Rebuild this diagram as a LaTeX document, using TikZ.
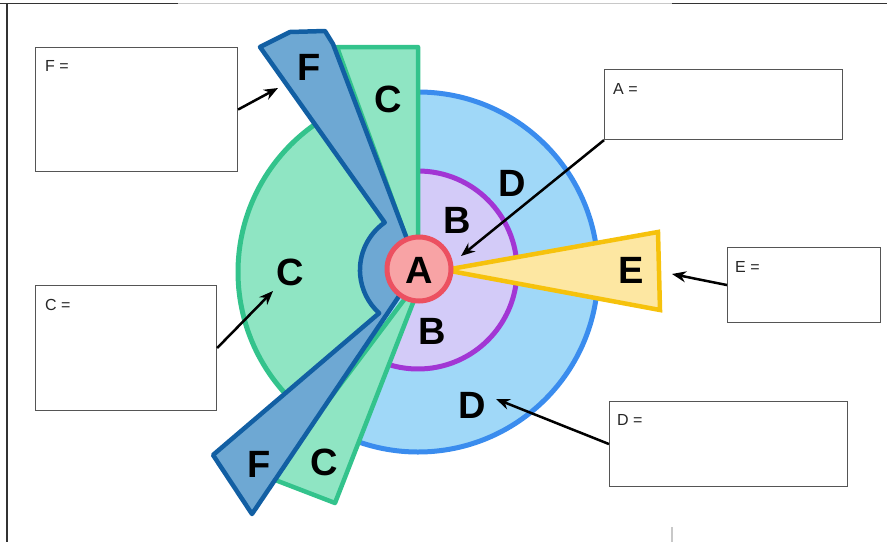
\documentclass[tikz,border=0pt]{standalone}
\usepackage{fontspec}
\setmainfont{Liberation Sans}
\usetikzlibrary{arrows.meta}
\definecolor{cfillc}{HTML}{8FE5C3}
\definecolor{clinec}{HTML}{33C38C}
\definecolor{dfillc}{HTML}{A0D8F8}
\definecolor{dlinec}{HTML}{3A8CEE}
\definecolor{bfillc}{HTML}{D3CBF8}
\definecolor{blinec}{HTML}{A236D4}
\definecolor{ffillc}{HTML}{6EA8D3}
\definecolor{flinec}{HTML}{125FA3}
\definecolor{efillc}{HTML}{FDE7A2}
\definecolor{elinec}{HTML}{F6C20C}
\definecolor{afillc}{HTML}{F8A3A5}
\definecolor{alinec}{HTML}{EC5060}
\definecolor{boxline}{HTML}{555555}
\definecolor{framedark}{HTML}{333333}
\definecolor{framelight}{HTML}{C8C8C8}
\begin{document}
\begin{tikzpicture}[x=1pt,y=1pt,yscale=-1,
  framedk/.style={draw=framedark,line width=1.3pt},
  framelt/.style={draw=framelight,line width=1.3pt},
  cpart/.style={fill=cfillc,draw=clinec,line width=4.5pt,line join=round},
  cedge/.style={draw=clinec,line width=5pt},
  dedge/.style={draw=dlinec,line width=5pt},
  bedge/.style={draw=blinec,line width=5pt},
  fpart/.style={fill=ffillc,draw=flinec,line width=4.5pt,line join=round},
  epart/.style={fill=efillc,draw=elinec,line width=4.5pt,line join=miter},
  apart/.style={fill=afillc,draw=alinec,line width=5pt},
  letter/.style={font=\fontsize{38}{38}\selectfont\bfseries,inner sep=0pt,text=black},
  box/.style={draw=boxline,line width=1.1pt,fill=white,anchor=north west,inner sep=0pt},
  lbl/.style={font=\fontsize{16}{16}\selectfont,text=black!85,inner sep=0pt,anchor=west},
  arr/.style={draw=black,line width=2.5pt,-{Stealth[length=14pt,width=11pt]}}]
\useasboundingbox (0,0) rectangle (887,542);
% frame
\draw[framedk] (0,3.5) -- (178,3.5);
\draw[framelt] (178,3.5) -- (672,3.5);
\draw[framedk] (672,3.5) -- (887,3.5);
\draw[framedk] (7,3.5) -- (7,542);
\draw[framelt] (672,527) -- (672,542);
% D and C circle
\fill[dfillc] (418,272) circle[radius=180];
\fill[cfillc] (418,272) -- (418,92) arc[start angle=270,end angle=125,radius=180] -- cycle;
\draw[dedge] (418,92) arc[start angle=-90,end angle=125,radius=180];
\draw[cedge] (418,92) arc[start angle=270,end angle=125,radius=180];
% B
\fill[bfillc] (418,270) -- (418,171) arc[start angle=-90,end angle=110,radius=99] -- cycle;
\draw[bedge] (418,171) arc[start angle=-90,end angle=110,radius=99];
% C wedges
\draw[cpart] (418,270) -- (337,47) -- (418,47) -- cycle;
\draw[cpart] (425,272) -- (335,503) -- (270,478) -- cycle;
% F shape
\draw[fpart] (418,268) -- (333,44) -- (325,31) -- (290,32) -- (260,47) -- (384.7,222.5)
  arc[start angle=235,end angle=132,radius=58] -- (213,455) -- (252,514) -- cycle;
% E
\draw[epart] (445,270) -- (658,232) -- (660,310) -- cycle;
% A
\draw[apart] (419,269) circle[radius=32];
% letters
\node[letter] (lA) at (419,270) {A};
\node[letter] (lB1) at (457,220) {B};
\node[letter] (lB2) at (432,331) {B};
\node[letter] (lD1) at (512,183) {D};
\node[letter] (lD2) at (472,405) {D};
\node[letter] (lE) at (631,270) {E};
\node[letter] (lC1) at (388,99) {C};
\node[letter] (lC2) at (290,272) {C};
\node[letter] (lC3) at (324,462) {C};
\node[letter] (lF1) at (309,67) {F};
\node[letter] (lF2) at (259,464) {F};
% boxes
\node[box,minimum width=202pt,minimum height=124pt] (fbox) at (35,47) {};
\node[box,minimum width=181pt,minimum height=125pt] (cbox) at (35,285) {};
\node[box,minimum width=238pt,minimum height=70pt] (abox) at (604,69) {};
\node[box,minimum width=153pt,minimum height=75pt] (ebox) at (727,247) {};
\node[box,minimum width=238pt,minimum height=85pt] (dbox) at (609,401) {};
\node[lbl] (tf) at (45,66) {F =};
\node[lbl] (tc) at (45,305) {C =};
\node[lbl] (ta) at (613,89) {A =};
\node[lbl] (te) at (735,267) {E =};
\node[lbl] (td) at (617,420) {D =};
% arrows
\coordinate (ftip) at (278,88);
\coordinate (ctip) at (273,291);
\coordinate (atip) at (461,256);
\coordinate (etip) at (672,274);
\coordinate (dtip) at (496,399);
\draw[arr] (fbox.east) -- (ftip);
\draw[arr] (cbox.east) -- (ctip);
\draw[arr] (abox.south west) -- (atip);
\draw[arr] (ebox.west) -- (etip);
\draw[arr] (dbox.west) -- (dtip);
\end{tikzpicture}
\end{document}
